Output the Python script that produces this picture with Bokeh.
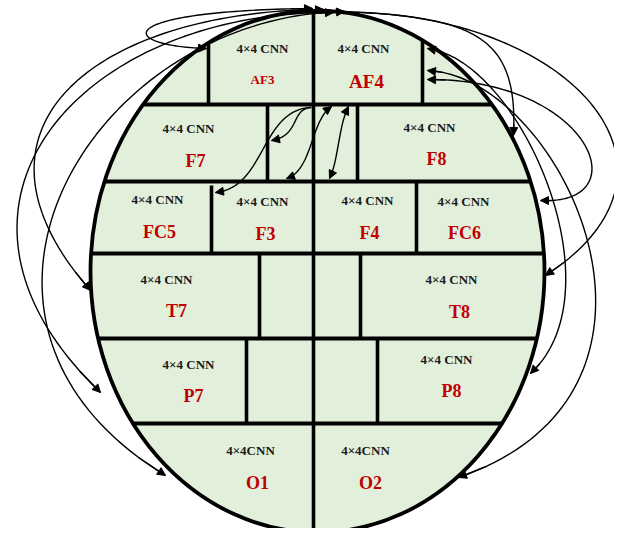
import numpy as np
from bokeh.plotting import figure
from bokeh.models import Range1d, Arrow, NormalHead, ColumnDataSource
from bokeh.core.properties import value
from bokeh.embed import file_html
from bokeh.resources import INLINE

# ---- content ----
electrodes = ["AF3", "AF4", "F7", "F8", "FC5", "F3", "F4", "FC6",
              "T7", "T8", "P7", "P8", "O1", "O2"]
module_text = ["4×4 CNN"] * 12 + ["4×4CNN"] * 2
name_sizes = ["13px", "19px", "18px", "18px", "18px", "18px", "18px", "18px",
              "18px", "18px", "18px", "18px", "18px", "18px"]

# layout (pixel coordinates of the drawing)
cell_x_cnn = [262, 363, 188, 429, 157, 262, 367, 463, 166, 451, 188, 446, 250, 365]
cell_y_cnn = [48, 48, 128, 127, 199, 201, 200, 201, 279, 279, 364, 359, 450, 450]
cell_x_name = [262, 366, 195, 436, 159, 265, 369, 464, 176, 459, 193, 451, 257, 370]
cell_y_name = [79, 81, 160, 158, 231, 233, 232, 232, 310, 311, 395, 390, 482, 482]

CX, CY, RA, RB = 317.0, 271.0, 227.0, 261.0
row_lines = [104, 181, 253, 338, 423]
# vertical separators: (x, y_top, y_bottom); None top = ellipse boundary
v_lines = [(208, None, 104), (422, None, 104),
           (267, 104, 181), (357, 104, 181),
           (211, 185, 253), (416, 181, 253),
           (259, 253, 338), (360, 253, 338),
           (246, 338, 423), (377, 338, 423)]

# connection curves: cubic bezier (P0, P1, P2, P3), heads at start / end
curves = [
    # left: top <-> AF3, T7, P7, O1
    ((312, 8), (110, 10), (115, 45), (206, 48), True, True),
    ((323, 9), (100, 10), (-55, 125), (90, 290), True, True),
    ((333, 12), (80, 10), (-95, 205), (100, 392), True, True),
    ((344, 11), (90, 15), (-90, 320), (165, 475), True, True),
    # right: top -> F8, T8
    ((320, 10), (470, 15), (518, 30), (513, 135), False, True),
    ((330, 12), (560, 5), (715, 165), (545, 275), False, True),
    # right: AF4 <-> P8, O2, FC6
    ((427, 48), (520, 60), (620, 290), (530, 373), True, True),
    ((427, 70), (560, 75), (712, 390), (458, 477), True, True),
    ((427, 79), (590, 78), (640, 205), (540, 200), True, True),
    # inner curves from AF4 corner
    ((311, 107), (290, 108), (300, 135), (271, 140), False, True),
    ((310, 107), (260, 110), (265, 187), (215, 192), False, True),
    ((331, 106), (310, 120), (312, 170), (286, 178), True, True),
    ((348, 106), (338, 125), (338, 160), (329, 178), True, True),
]

FILL = "#e2efda"
RED = "#c00000"
FONT = value("Liberation Serif")

p = figure(width=614, height=528, x_range=Range1d(0, 614), y_range=Range1d(528, 0),
           output_backend="svg", toolbar_location=None, min_border=0)
p.axis.visible = False
p.grid.visible = False
p.outline_line_color = None
p.background_fill_color = "white"


def ellipse_x(y):
    d = (y - CY) / RB
    h = RA * np.sqrt(max(0.0, 1 - d * d))
    return CX - h, CX + h


def ellipse_y_top(x):
    d = (x - CX) / RA
    return CY - RB * np.sqrt(max(0.0, 1 - d * d))


p.ellipse(x=[CX], y=[CY], width=[2 * RA], height=[2 * RB],
          fill_color=FILL, line_color="black", line_width=3.8)

# horizontal separators
hx, hy = [], []
for y in row_lines:
    l, r = ellipse_x(y)
    hx.append([l + 1, r - 1])
    hy.append([y, y])
p.multi_line(hx, hy, line_color="black", line_width=3.8)

# vertical separators
vx, vy = [], []
for x, y0, y1 in v_lines:
    top = ellipse_y_top(x) if y0 is None else y0
    vx.append([x, x])
    vy.append([top, y1])
vx.append([CX - 4, CX - 4])
vy.append([ellipse_y_top(CX - 4), CY + RB - 1])
p.multi_line(vx, vy, line_color="black", line_width=3.6)

# texts
src = ColumnDataSource(dict(xc=cell_x_cnn, yc=cell_y_cnn, tc=module_text,
                            xn=cell_x_name, yn=cell_y_name, tn=electrodes,
                            fs=name_sizes))
p.text(x="xc", y="yc", text="tc", source=src, text_font=FONT, text_font_style="bold",
       text_font_size="13px", text_align="center", text_baseline="middle",
       text_color="#1a1a1a")
p.text(x="xn", y="yn", text="tn", source=src, text_font=FONT, text_font_style="bold",
       text_font_size="fs", text_align="center", text_baseline="middle",
       text_color=RED)

# curves
t = np.linspace(0, 1, 80)
cx_all, cy_all = [], []
for P0, P1, P2, P3, hs, he in curves:
    P0, P1, P2, P3 = [np.array(v, float) for v in (P0, P1, P2, P3)]
    pts = (np.outer((1 - t) ** 3, P0) + np.outer(3 * (1 - t) ** 2 * t, P1)
           + np.outer(3 * (1 - t) * t ** 2, P2) + np.outer(t ** 3, P3))
    cx_all.append(list(pts[:, 0]))
    cy_all.append(list(pts[:, 1]))
    if he:
        a = pts[-4]
        p.add_layout(Arrow(end=NormalHead(size=8, fill_color="black", line_color="black"),
                           x_start=a[0], y_start=a[1], x_end=P3[0], y_end=P3[1],
                           line_width=1.4, line_color="black"))
    if hs:
        a = pts[3]
        p.add_layout(Arrow(end=NormalHead(size=8, fill_color="black", line_color="black"),
                           x_start=a[0], y_start=a[1], x_end=P0[0], y_end=P0[1],
                           line_width=1.4, line_color="black"))
p.multi_line(cx_all, cy_all, line_color="black", line_width=1.4)

open("out.html", "w").write(file_html(p, INLINE))
